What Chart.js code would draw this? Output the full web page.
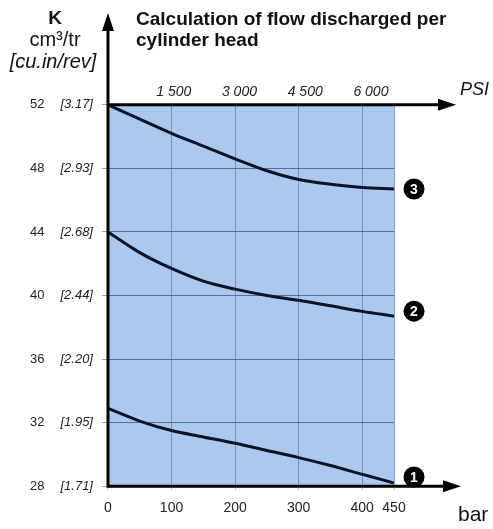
<!DOCTYPE html>
<html>
<head>
<meta charset="utf-8">
<script src="https://cdn.jsdelivr.net/npm/chart.js@4.4.1/dist/chart.umd.min.js"></script>
<style>
  body { margin: 0; background: #fff; }
  canvas { display: block; }
</style>
</head>
<body>
<canvas id="flowChart" width="493" height="529"></canvas>
<script>
// pressure (bar) vs. flow per revolution K (cm3/tr), one curve per cylinder head
const pressure = [0, 50, 100, 150, 200, 250, 300, 350, 400, 450];
const head1 = [32.9, 32.1, 31.5, 31.1, 30.7, 30.25, 29.8, 29.3, 28.75, 28.2];
const head2 = [44.0, 42.7, 41.7, 40.9, 40.4, 40.0, 39.7, 39.35, 39.0, 38.7];
const head3 = [52.0, 51.1, 50.2, 49.4, 48.6, 47.85, 47.3, 47.0, 46.8, 46.7];
const headNames = ['1', '2', '3'];
const barTicks = [0, 100, 200, 300, 400, 450];
const psiTicks = [1500, 3000, 4500, 6000];
const kTicks = [28, 32, 36, 40, 44, 48, 52];
const cuinLabels = ['1.71', '1.95', '2.20', '2.44', '2.68', '2.93', '3.17'];

const BAR_TO_PSI = 14.5038;
const FONT = 'Liberation Sans, Arial, sans-serif';

function points(values) {
    return pressure.map((p, i) => ({ x: p, y: values[i] }));
}

function arrow(ctx, x1, y1, x2, y2) {
    const ang = Math.atan2(y2 - y1, x2 - x1);
    const len = 18, half = 6;
    const bx = x2 - len * Math.cos(ang), by = y2 - len * Math.sin(ang);
    ctx.beginPath();
    ctx.moveTo(x1, y1);
    ctx.lineTo(bx, by);
    ctx.stroke();
    ctx.beginPath();
    ctx.moveTo(x2, y2);
    ctx.lineTo(bx + half * Math.sin(ang), by - half * Math.cos(ang));
    ctx.lineTo(bx - half * Math.sin(ang), by + half * Math.cos(ang));
    ctx.closePath();
    ctx.fill();
}

// blue plot background, black arrowed axes, captions and curve markers
const decor = {
    id: 'decor',
    beforeDraw(chart) {
        const { ctx, chartArea: a } = chart;
        ctx.save();
        ctx.fillStyle = '#abc9ef';
        ctx.fillRect(a.left, a.top, a.right - a.left, a.bottom - a.top);
        ctx.restore();
    },
    afterDraw(chart) {
        const { ctx, chartArea: a } = chart;
        ctx.save();
        ctx.strokeStyle = '#000';
        ctx.fillStyle = '#000';
        ctx.lineWidth = 3;
        arrow(ctx, a.left, a.bottom + 1.5, a.left, 13);
        arrow(ctx, a.left, a.top, a.right + 62, a.top);
        arrow(ctx, a.left, a.bottom, a.right + 67, a.bottom);

        ctx.fillStyle = '#111';
        ctx.textBaseline = 'alphabetic';
        ctx.textAlign = 'center';
        ctx.font = 'bold 19px ' + FONT;
        ctx.fillText('K', 55, 24);
        ctx.font = '20px ' + FONT;
        ctx.fillText('cm³/tr', 55, 46);
        ctx.font = 'italic 20px ' + FONT;
        ctx.fillText('[cu.in/rev]', 53, 68);

        ctx.textAlign = 'left';
        ctx.font = 'bold 19px ' + FONT;
        ctx.fillText('Calculation of flow discharged per', 136, 25);
        ctx.fillText('cylinder head', 136, 46);

        ctx.font = 'italic 18px ' + FONT;
        ctx.fillText('PSI', a.right + 66, 95);
        ctx.font = '21px ' + FONT;
        ctx.fillText('bar', a.right + 64, 521);

        // numbered markers at the end of each curve
        const shift = [[20, -6], [20, -5], [20, 0]];
        chart.data.datasets.forEach((ds, i) => {
            const meta = chart.getDatasetMeta(i);
            const last = meta.data[meta.data.length - 1];
            const cx = last.x + shift[i][0], cy = last.y + shift[i][1];
            ctx.fillStyle = '#000';
            ctx.beginPath();
            ctx.arc(cx, cy, 10.5, 0, Math.PI * 2);
            ctx.fill();
            ctx.fillStyle = '#fff';
            ctx.font = 'bold 14px ' + FONT;
            ctx.textAlign = 'center';
            ctx.textBaseline = 'middle';
            ctx.fillText(headNames[i], cx, cy + 1);
        });
        ctx.restore();
    }
};

const lineStyle = {
    borderColor: '#0b1424',
    borderWidth: 3,
    pointRadius: 0,
    fill: false,
    cubicInterpolationMode: 'monotone'
};

const ctx = document.getElementById('flowChart');
const flowChart = new Chart(ctx, {
    type: 'line',
    data: {
        datasets: [
            { label: headNames[0], data: points(head1), ...lineStyle },
            { label: headNames[1], data: points(head2), ...lineStyle },
            { label: headNames[2], data: points(head3), ...lineStyle }
        ]
    },
    options: {
        responsive: false,
        animation: false,
        layout: { padding: { top: 80, right: 99, bottom: 2, left: 23 } },
        plugins: { legend: { display: false }, tooltip: { enabled: false } },
        scales: {
            x: {
                type: 'linear',
                position: 'bottom',
                min: 0,
                max: 450,
                afterBuildTicks: (axis) => { axis.ticks = barTicks.map(v => ({ value: v })); },
                border: { display: false },
                grid: { color: 'rgba(95,125,170,0.75)', tickColor: 'rgba(150,160,175,0.6)', tickLength: 4 },
                ticks: { color: '#222', padding: 10, font: { family: FONT, size: 14 } }
            },
            psi: {
                type: 'linear',
                position: 'top',
                min: 0,
                max: 450 * BAR_TO_PSI,
                afterBuildTicks: (axis) => { axis.ticks = psiTicks.map(v => ({ value: v })); },
                border: { display: false },
                grid: { display: false, drawTicks: false },
                ticks: {
                    color: '#222',
                    padding: 4,
                    font: { family: FONT, size: 14, style: 'italic' },
                    callback: (v) => String(v).replace(/(\d)(\d{3})$/, '$1 $2')
                }
            },
            y: {
                type: 'linear',
                position: 'left',
                weight: 0,
                min: 28,
                max: 52,
                afterBuildTicks: (axis) => { axis.ticks = kTicks.map(v => ({ value: v })); },
                border: { display: false },
                grid: { color: 'rgba(60,90,140,0.8)', tickColor: 'rgba(140,140,140,0.8)', tickLength: 6 },
                ticks: {
                    color: '#222',
                    padding: 9,
                    font: { family: FONT, size: 13, style: 'italic' },
                    callback: (v) => '[' + cuinLabels[kTicks.indexOf(v)] + ']'
                }
            },
            yK: {
                type: 'linear',
                position: 'left',
                weight: 1,
                min: 28,
                max: 52,
                afterBuildTicks: (axis) => { axis.ticks = kTicks.map(v => ({ value: v })); },
                border: { display: false },
                grid: { display: false, drawTicks: false },
                ticks: { color: '#222', padding: 7, font: { family: FONT, size: 13 } }
            }
        }
    },
    plugins: [decor]
});
</script>
</body>
</html>
